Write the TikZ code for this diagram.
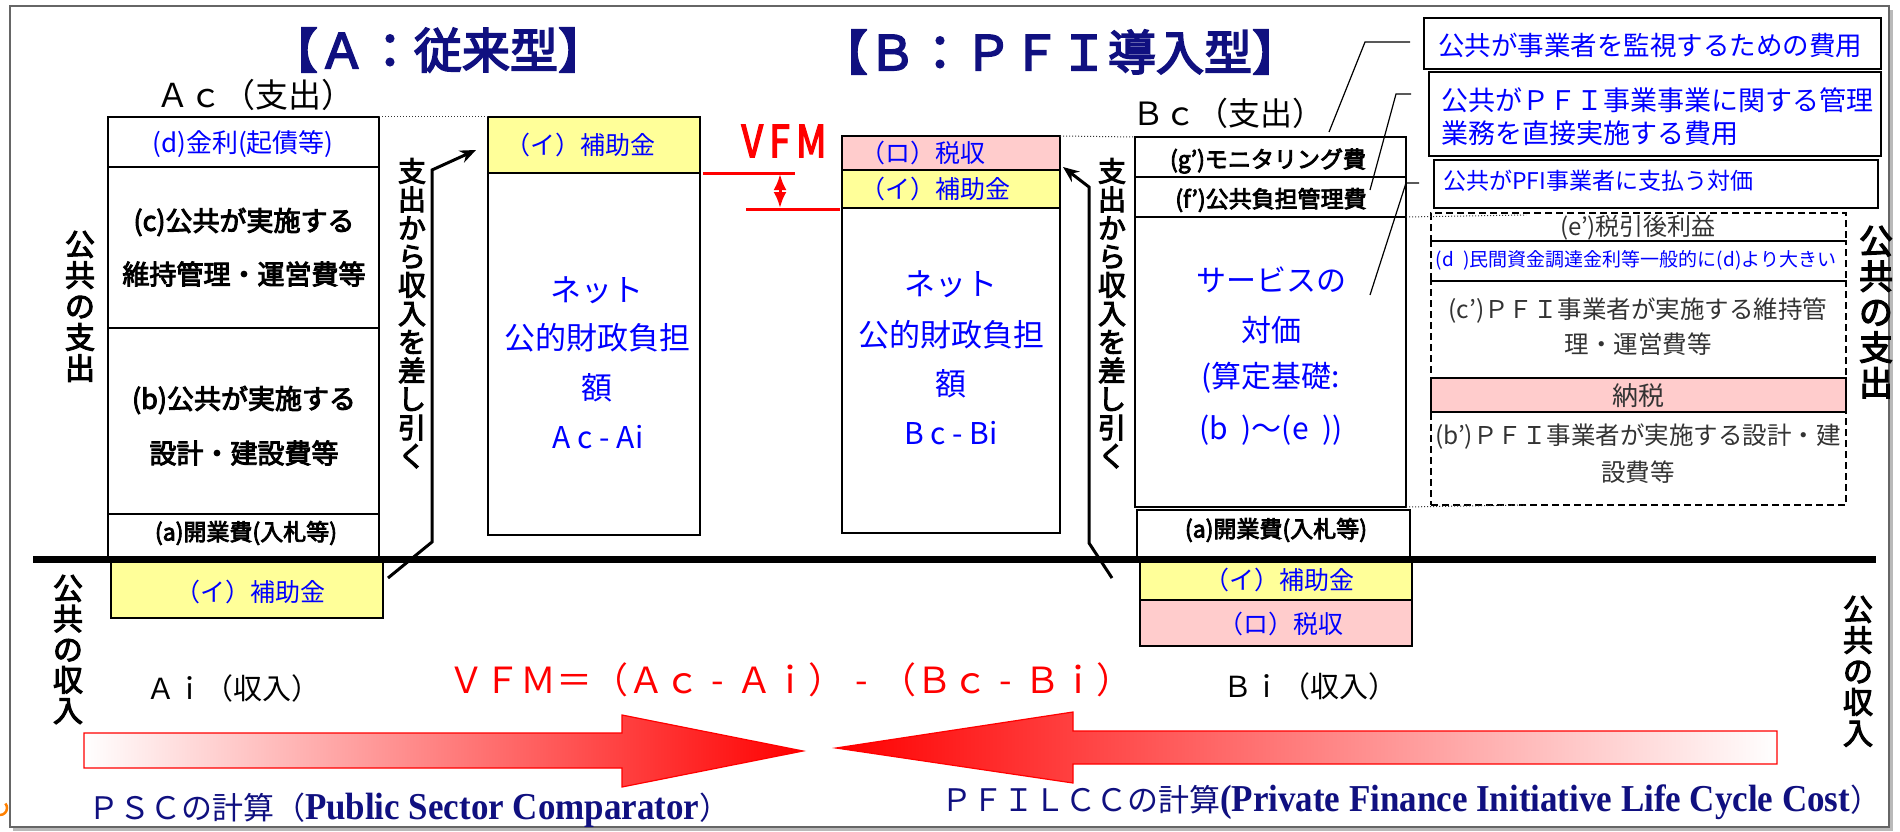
\documentclass[tikz,border=0pt]{standalone}
\usepackage{fontspec}
\setmainfont{Noto Sans CJK JP}
\newfontfamily\jpb{Noto Sans CJK JP}[FakeBold=3.5]
\newfontfamily\tnr{Liberation Serif}[FakeStretch=0.92]
\usetikzlibrary{arrows.meta}
\newcommand\fsz[1]{\fontsize{#1}{#1}\selectfont}
\newcommand\fwh{\makebox[1em]{-}}
\newcommand\rbox[6]{\node[#2, minimum width={#5pt-#3pt}, minimum height={#6pt-#4pt}, anchor=north west] (#1) at (#3,#4) {};}
\definecolor{navy}{RGB}{16,16,128}
\definecolor{tblue}{RGB}{0,0,255}
\definecolor{yel}{RGB}{255,255,153}
\definecolor{pnk}{RGB}{255,204,204}
\definecolor{dgray}{RGB}{51,51,51}
\begin{document}
\begin{tikzpicture}[x=1pt,y=-1pt,
  box/.style={draw=black, line width=1.8pt, fill=white, inner sep=0pt, outer sep=0pt},
  ybox/.style={box, fill=yel},
  pbox/.style={box, fill=pnk},
  dbox/.style={draw=black, line width=1.6pt, dash pattern=on 7pt off 4pt, inner sep=0pt, outer sep=0pt},
  cbox/.style={box},
  t/.style={inner sep=0pt, outer sep=0pt, align=center},
  leader/.style={line width=1.2pt},
  dotl/.style={dotted, line width=1pt, draw=dgray},
  turn/.style={line width=3pt, -{Stealth[length=16pt,width=13pt]}},
  bigarr/.style={draw=red, line width=1.2pt}
]
\useasboundingbox (0,0) rectangle (1900,832);
% frame
\fill[gray!55] (13,10) rectangle (1893,831);
\draw[gray!80!black, line width=1.5pt, fill=white] (10,6) rectangle (1889,827);

% titles
\node[t, text=navy, font=\jpb\fsz{48}] (titA) at (438,50) {【Ａ：従来型】};
\node[t, text=navy, font=\jpb\fsz{48}] (titB) at (1060,52) {【Ｂ：ＰＦＩ導入型】};
\node[t, font=\fsz{33}] (acl) at (255,95) {Ａｃ（支出）};
\node[t, font=\fsz{32}] (bcl) at (1228,113) {Ｂｃ（支出）};

% A column boxes
\rbox{ad}{box}{108}{117}{379}{167}
\rbox{ac}{box}{108}{167}{379}{328}
\rbox{ab}{box}{108}{328}{379}{514}
\rbox{aa}{box}{108}{514}{379}{559}
\rbox{ai}{ybox}{111}{559}{383}{618}
\node[t, text=tblue, font=\fsz{26}] (tad) at (243,144) {(d)金利(起債等)};
\node[t, font=\jpb\fsz{27}] (tac1) at (244,222) {(c)公共が実施する};
\node[t, font=\jpb\fsz{27}] (tac2) at (244,274) {維持管理・運営費等};
\node[t, font=\jpb\fsz{27}] (tab1) at (244,400) {(b)公共が実施する};
\node[t, font=\jpb\fsz{27}] (tab2) at (244,453) {設計・建設費等};
\node[t, font=\jpb\fsz{23}] (taa) at (246,533) {(a)開業費(入札等)};
\node[t, text=tblue, font=\fsz{25}] (tai) at (250,592) {（イ）補助金};

% net A
\rbox{na}{box}{488}{117}{700}{535}
\rbox{nai}{ybox}{488}{117}{700}{173}
\node[t, text=tblue, font=\fsz{25}] (tnai) at (580,145) {（イ）補助金};
\node[t, text=tblue, font=\fsz{31}] (na1) at (597,290) {ネット};
\node[t, text=tblue, font=\fsz{31}] (na2) at (597,338) {公的財政負担};
\node[t, text=tblue, font=\fsz{31}] (na3) at (597,388) {額};
\node[t, text=tblue, font=\fsz{30}] (na4) at (598,437) {A c - Ai};

% net B
\rbox{nb}{box}{842}{136}{1060}{533}
\rbox{nbr}{pbox}{842}{136}{1060}{170}
\rbox{nbi}{ybox}{842}{170}{1060}{208}
\node[t, anchor=west, text=tblue, font=\fsz{25}] (tnbr) at (860,153) {（ロ）税収};
\node[t, anchor=west, text=tblue, font=\fsz{25}] (tnbi) at (860,189) {（イ）補助金};
\node[t, text=tblue, font=\fsz{31}] (nb1) at (951,284) {ネット};
\node[t, text=tblue, font=\fsz{31}] (nb2) at (951,335) {公的財政負担};
\node[t, text=tblue, font=\fsz{31}] (nb3) at (951,384) {額};
\node[t, text=tblue, font=\fsz{30}] (nb4) at (951,433) {B c - Bi};

% Bc column
\rbox{bg}{box}{1135}{137}{1406}{177}
\rbox{bf}{box}{1135}{177}{1406}{217}
\rbox{bs}{box}{1135}{217}{1406}{507}
\rbox{ba}{box}{1137}{510}{1410}{559}
\rbox{bii}{ybox}{1140}{559}{1412}{600}
\rbox{bir}{pbox}{1140}{600}{1412}{646}
\node[t, font=\jpb\fsz{23}] (tbg) at (1268,161) {(g’)モニタリング費};
\node[t, font=\jpb\fsz{23}] (tbf) at (1271,200) {(f’)公共負担管理費};
\node[t, text=tblue, font=\fsz{30}] (bs1) at (1271,280) {サービスの};
\node[t, text=tblue, font=\fsz{30}] (bs2) at (1271,330) {対価};
\node[t, text=tblue, font=\fsz{30}] (bs3) at (1271,378) {(算定基礎:};
\node[t, text=tblue, font=\fsz{30}] (bs4) at (1271,430) {(b\hspace{14pt})～(e\hspace{14pt}))};
\node[t, font=\jpb\fsz{23}] (tba) at (1276,530) {(a)開業費(入札等)};
\node[t, text=tblue, font=\fsz{25}] (tbii) at (1279,580) {（イ）補助金};
\node[t, text=tblue, font=\fsz{25}] (tbir) at (1281,624) {（ロ）税収};

% dashed breakdown
\rbox{de}{dbox}{1431}{213}{1846}{241}
\rbox{dd}{dbox}{1431}{241}{1846}{281}
\rbox{dc}{dbox}{1431}{281}{1846}{378}
\rbox{db}{dbox}{1431}{412}{1846}{505}
\rbox{tax}{pbox}{1431}{378}{1846}{412}
\node[t, text=dgray, font=\fsz{24}] (tde) at (1638,228) {(e’)税引後利益};
\node[t, text=tblue, font=\fsz{19}] (tdd) at (1636,260) {(d\enspace)民間資金調達金利等一般的に(d)より大きい};
\node[t, text=dgray, font=\fsz{24.5}] (tdc1) at (1638,311) {(c’)ＰＦＩ事業者が実施する維持管};
\node[t, text=dgray, font=\fsz{24.5}] (tdc2) at (1638,344) {理・運営費等};
\node[t, text=dgray, font=\fsz{26}] (ttax) at (1638,396) {納税};
\node[t, text=dgray, font=\fsz{24.5}] (tdb1) at (1638,437) {(b’)ＰＦＩ事業者が実施する設計・建};
\node[t, text=dgray, font=\fsz{24.5}] (tdb2) at (1638,472) {設費等};

% callouts
\rbox{c1}{cbox}{1424}{18}{1881}{69}
\rbox{c2}{cbox}{1429}{72}{1881}{156}
\rbox{c3}{cbox}{1434}{160}{1878}{208}
\node[t, text=tblue, font=\fsz{26.5}] (tc1) at (1650,45) {公共が事業者を監視するための費用};
\node[t, anchor=west, text=tblue, font=\fsz{27}] (tc2a) at (1441,100) {公共がＰＦＩ事業事業に関する管理};
\node[t, anchor=west, text=tblue, font=\fsz{27}] (tc2b) at (1441,133) {業務を直接実施する費用};
\node[t, anchor=west, text=tblue, font=\fsz{23}] (tc3) at (1443,181) {公共がPFI事業者に支払う対価};

% leaders
\coordinate (l1a) at (1329,132); \coordinate (l1b) at (1365,42); \coordinate (l1c) at (1410,42);
\coordinate (l2a) at (1411,94); \coordinate (l2b) at (1396,94); \coordinate (l2c) at (1370,190);
\coordinate (l3a) at (1419,183); \coordinate (l3b) at (1406,183); \coordinate (l3c) at (1370,295);
\draw[leader] (l1a) -- (l1b) -- (l1c);
\draw[leader] (l2a) -- (l2b) -- (l2c);
\draw[leader] (l3a) -- (l3b) -- (l3c);

% dotted guides
\draw[dotl] (ad.north east) -- (nai.north west);
\draw[dotl] (nbr.north east) -- (bg.north west);
\coordinate (dg1) at (1526,215); \coordinate (dg2) at (1526,505);
\draw[dotl] (bf.south east) -- (dg1);
\draw[dotl] (bs.south east) -- (dg2);

% thick baseline
\coordinate (bl1) at (33,559); \coordinate (bl2) at (1876,559);
\draw[line width=7pt] (bl1) -- (bl2);

% subtraction arrows
\coordinate (aA0) at (388,578); \coordinate (aA1) at (432,542); \coordinate (aA2) at (432,170); \coordinate (aAt) at (476,150);
\draw[turn] (aA0) -- (aA1) -- (aA2) -- (aAt);
\coordinate (aB0) at (1112,578); \coordinate (aB1) at (1089,543); \coordinate (aB2) at (1089,187); \coordinate (aBt) at (1063,167);
\draw[turn] (aB0) -- (aB1) -- (aB2) -- (aBt);
\node[t, anchor=north, font=\jpb\fontsize{28}{28.5}\selectfont] (vA) at (412,158) {支\\出\\か\\ら\\収\\入\\を\\差\\し\\引\\く};
\node[t, anchor=north, font=\jpb\fontsize{28}{28.5}\selectfont] (vB) at (1112,158) {支\\出\\か\\ら\\収\\入\\を\\差\\し\\引\\く};

% side labels
\node[t, anchor=north, font=\jpb\fontsize{30}{31}\selectfont] (lsp) at (80,231) {公\\共\\の\\支\\出};
\node[t, anchor=north, font=\jpb\fontsize{34}{35.5}\selectfont] (rsp) at (1876,226) {公\\共\\の\\支\\出};
\node[t, anchor=north, font=\jpb\fontsize{30}{30.6}\selectfont] (lin) at (68,575) {公\\共\\の\\収\\入};
\node[t, anchor=north, font=\jpb\fontsize{30}{31}\selectfont] (rin) at (1858,596) {公\\共\\の\\収\\入};

% VFM marker
\node[t, text=red, font=\jpb\fsz{44}] (vfm) at (784,141) {\scalebox{0.85}[1]{V\,F\,M}};
\coordinate (v1a) at (703,173); \coordinate (v1b) at (795,173);
\coordinate (v2a) at (746,209); \coordinate (v2b) at (840,209);
\draw[red, line width=3pt] (v1a) -- (v1b);
\draw[red, line width=3pt] (v2a) -- (v2b);
\draw[red, line width=3pt, {Latex[length=16pt,width=13pt]}-{Latex[length=16pt,width=13pt]}] (780,174) -- (780,208);

% bottom labels
\node[t, font=\fsz{29}] (ail) at (233,688) {Ａｉ（収入）};
\node[t, font=\fsz{29}] (bil) at (1310,686) {Ｂｉ（収入）};
\node[t, text=red, font=\fsz{36}] (form) at (790,680) {ＶＦＭ＝（Ａｃ\fwh Ａｉ）\fwh（Ｂｃ\fwh Ｂｉ）};

% big arrows
\shade[left color=white, right color=red] (84,733) -- (622,733) -- (622,715) -- (803,751) -- (622,787) -- (622,768) -- (84,768) -- cycle;
\draw[bigarr] (84,733) -- (622,733) -- (622,715) -- (803,751) -- (622,787) -- (622,768) -- (84,768) -- cycle;
\shade[left color=red, right color=white] (1777,731) -- (1073,731) -- (1073,712) -- (836,748) -- (1073,783) -- (1073,764) -- (1777,764) -- cycle;
\draw[bigarr] (1777,731) -- (1073,731) -- (1073,712) -- (836,748) -- (1073,783) -- (1073,764) -- (1777,764) -- cycle;

\node[t, anchor=west, text=navy] (psc) at (88,810) {{\fsz{31}ＰＳＣの計算（}{\tnr\bfseries\fsz{38}Public Sector Comparator}{\fsz{31}）}};
\node[t, anchor=west, text=navy] (pfi) at (941,802) {{\fsz{31}ＰＦＩＬＣＣの計算}{\tnr\bfseries\fsz{38}(Private Finance Initiative Life Cycle Cost}{\fsz{31}）}};

% corner mark
\draw[orange, line width=2.5pt] (0,815) arc[start angle=90, end angle=-40, radius=7];
\end{tikzpicture}
\end{document}
